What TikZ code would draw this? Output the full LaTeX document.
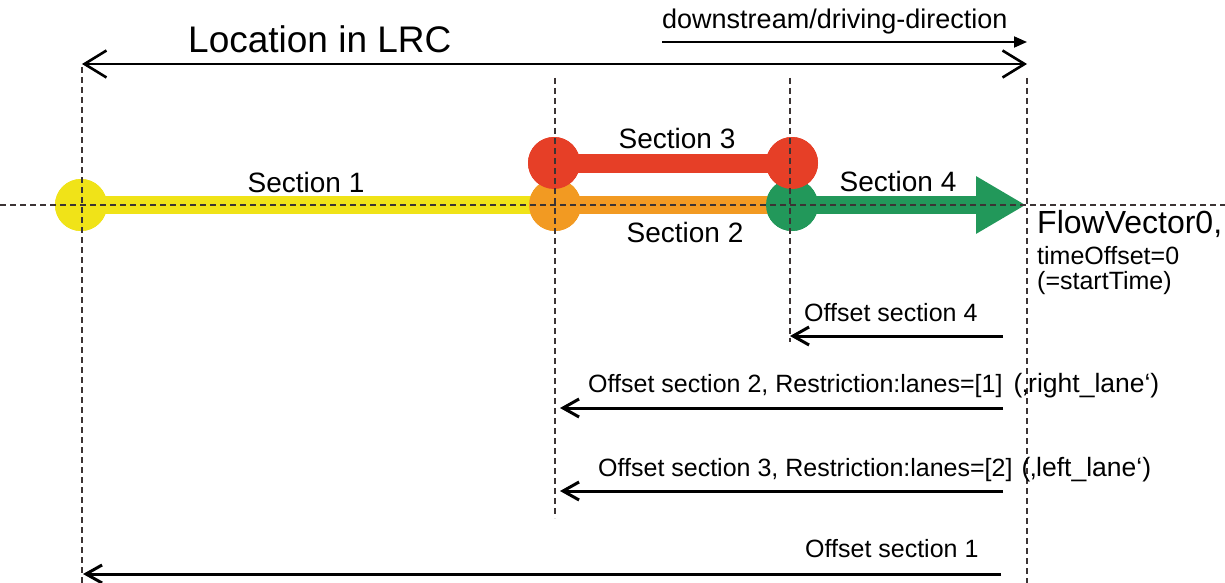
\documentclass[tikz,border=0pt]{standalone}
\usepackage{fontspec}
\setmainfont{Liberation Sans}
\usetikzlibrary{arrows.meta}
\definecolor{cyel}{HTML}{F0E318}
\definecolor{cora}{HTML}{F29A22}
\definecolor{cred}{HTML}{E63F27}
\definecolor{cgrn}{HTML}{22985A}
\definecolor{cdash}{HTML}{3C3434}
\tikzset{
  fs/.style={font=\fontsize{#1}{#1}\selectfont},
  dotnode/.style={circle, inner sep=0pt, minimum size=52pt, fill=#1, draw=none},
  band/.style={line width=18pt, draw=#1},
  guide/.style={draw=cdash, line width=1.4pt, dash pattern=on 6pt off 4pt},
  offarrow/.style={draw=black, line width=3pt, -{Straight Barb[length=16pt, width=18pt, line width=3pt]}},
  lbl/.style={inner sep=0pt, anchor=base west},
  lblc/.style={inner sep=0pt, anchor=base},
}
\begin{document}
\begin{tikzpicture}[x=1pt, y=-1pt]
\useasboundingbox (0,0) rectangle (1225,583);
\fill[white] (0,0) rectangle (1225,583);

% section dots
\node[dotnode=cyel] (y1) at (81,205) {};
\node[dotnode=cora] (o1) at (555,205) {};
\node[dotnode=cgrn] (g1) at (792,205) {};
\node[dotnode=cred] (r1) at (554,163) {};
\node[dotnode=cred] (r2) at (792,163) {};
\coordinate (tip) at (1026,205);

% bands, then dots on top
\draw[band=cyel] (y1.center) -- (o1.center);
\draw[band=cora] (o1.center) -- (g1.center);
\draw[band=cgrn, -{Triangle[length=50pt, width=54pt]}] (g1.center) -- (tip);
\node[dotnode=cyel] at (y1) {};
\node[dotnode=cora] at (o1) {};
\node[dotnode=cgrn] at (g1) {};
\draw[band=cred, line width=19pt] (r1.center) -- (r2.center);
\node[dotnode=cred] at (r1) {};
\node[dotnode=cred] at (r2) {};

% guides
\coordinate (hL) at (0,205);
\coordinate (hR) at (1225,205);
\draw[guide] (hL) -- (hR);
\coordinate (v1t) at (82,67);   \coordinate (v1b) at (82,583);
\coordinate (v2t) at (555,78);  \coordinate (v2b) at (555,518);
\coordinate (v3t) at (790,78);  \coordinate (v3b) at (790,342);
\coordinate (v4t) at (1027,78); \coordinate (v4b) at (1027,583);
\draw[guide] (v1t) -- (v1b);
\draw[guide] (v2t) -- (v2b);
\draw[guide] (v3t) -- (v3b);
\draw[guide] (v4t) -- (v4b);

% top arrows
\node[lbl, fs=37] (loc) at (188,53) {Location in LRC};
\coordinate (lrcL) at (82,64);
\coordinate (lrcR) at (1027,64);
\draw[line width=2.6pt, {Straight Barb[length=22pt, width=27pt, line width=2.6pt]}-{Straight Barb[length=22pt, width=27pt, line width=2.6pt]}] (lrcL) -- (lrcR);
\node[lbl, fs=27] (down) at (662,29) {downstream/driving-direction};
\coordinate (dsL) at (662,42);
\coordinate (dsR) at (1027,42);
\draw[line width=1.8pt, -{Triangle[length=13pt, width=11pt]}] (dsL) -- (dsR);

% section labels
\node[lblc, fs=28] (s1) at (306,192) {Section 1};
\node[lblc, fs=28] (s3) at (677,148) {Section 3};
\node[lblc, fs=28] (s2) at (685,242) {Section 2};
\node[lblc, fs=28] (s4) at (898,191) {Section 4};

% flow vector text
\node[lbl, fs=32] (fv) at (1037,233) {FlowVector0,};
\node[lbl, fs=25] (to) at (1037,264) {timeOffset=0};
\node[lbl, fs=25] (st) at (1037,289) {(=startTime)};

% offsets
\node[lbl, fs=25] (t4) at (804,321) {Offset section 4};
\coordinate (a4s) at (1003,336); \coordinate (a4e) at (790,336);
\draw[offarrow] (a4s) -- (a4e);

\node[lbl, fs=25] (t2) at (588,392) {Offset section 2, Restriction:lanes=[1]\hspace{11pt}{\fontsize{26.5}{26.5}\selectfont(‚right\_lane‘)}};
\coordinate (a2s) at (1003,408); \coordinate (a2e) at (560,408);
\draw[offarrow] (a2s) -- (a2e);

\node[lbl, fs=25] (t3) at (598,476) {Offset section 3, Restriction:lanes=[2]\hspace{9pt}{\fontsize{26.5}{26.5}\selectfont(‚left\_lane‘)}};
\coordinate (a3s) at (1003,491); \coordinate (a3e) at (560,491);
\draw[offarrow] (a3s) -- (a3e);

\node[lbl, fs=25] (t1) at (805,557) {Offset section 1};
\coordinate (a1s) at (1001,574); \coordinate (a1e) at (83,574);
\draw[offarrow] (a1s) -- (a1e);
\end{tikzpicture}
\end{document}
